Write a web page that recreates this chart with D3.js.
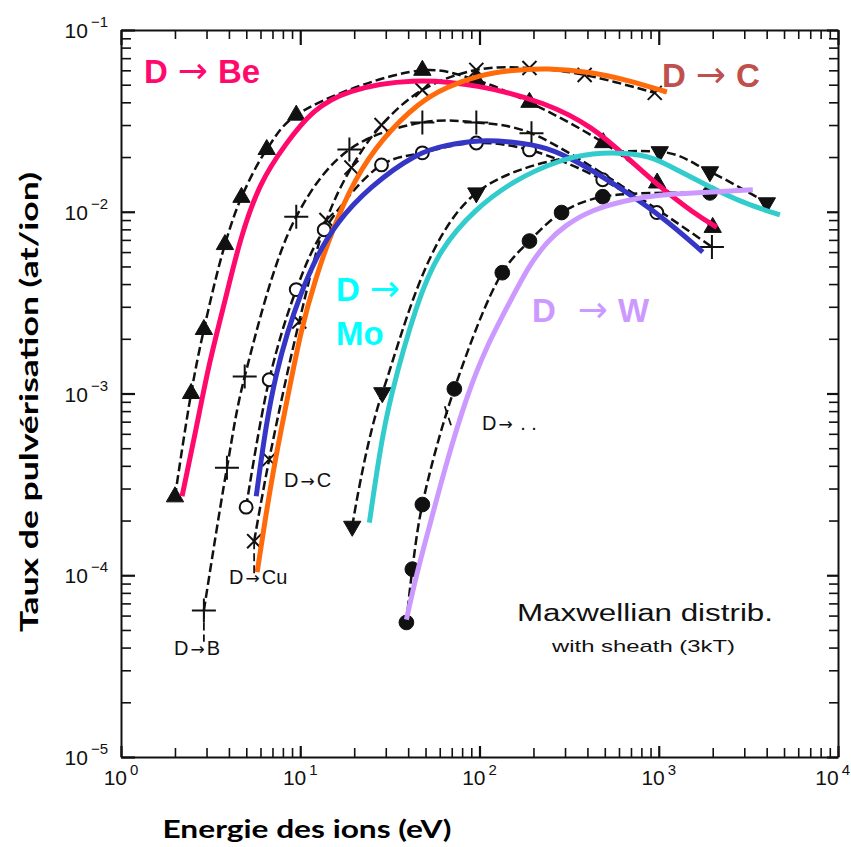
<!DOCTYPE html>
<html>
<head>
<meta charset="utf-8">
<script src="https://cdn.jsdelivr.net/npm/d3@7"></script>
<style>
  body { margin: 0; background: #fff; }
  svg { display: block; }
</style>
</head>
<body>
<svg id="chart" width="851" height="847"></svg>
<script>
// axis decades
const xTickExps = [0, 1, 2, 3, 4];
const yTickExps = [-1, -2, -3, -4, -5];

// black curves of the scanned figure: energy (eV) / yield (at/ion)
const beE = [2.0, 2.46, 2.9, 3.8, 4.7, 6.5, 9.5, 48, 96, 190, 490, 980, 2000];
const beY = [2.7e-4, 1.0e-3, 2.25e-3, 6.6e-3, 1.2e-2, 2.2e-2, 3.4e-2, 6.0e-2, 5.3e-2, 4.0e-2, 2.4e-2, 1.44e-2, 8.2e-3];
const bE = [2.9, 3.9, 4.9, 9.5, 18.8, 48, 96, 195, 1980];
const bY = [6.4e-5, 3.9e-4, 1.24e-3, 9.4e-3, 2.2e-2, 3.1e-2, 3.1e-2, 2.7e-2, 6.4e-3];
const cE = [5.53, 6.71, 9.87, 14.0, 19.3, 28.4, 48, 96, 190, 386, 950];
const cY = [1.54e-4, 4.34e-4, 2.49e-3, 9.0e-3, 1.75e-2, 3.0e-2, 4.68e-2, 6.03e-2, 6.18e-2, 5.66e-2, 4.51e-2];
const oE = [4.99, 6.71, 9.5, 13.6, 28.4, 48, 96, 190, 487, 975];
const oY = [2.37e-4, 1.19e-3, 3.73e-3, 7.96e-3, 1.81e-2, 2.11e-2, 2.39e-2, 2.19e-2, 1.5e-2, 9.9e-3];
const moE = [19.5, 28.7, 96, 1013, 1930, 4010];
const moY = [1.86e-4, 1.01e-3, 1.27e-2, 2.14e-2, 1.66e-2, 1.12e-2];
const wE = [39.1, 42.2, 48, 72.4, 134, 190, 287, 487, 1930];
const wY = [5.5e-5, 1.08e-4, 2.45e-4, 1.06e-3, 4.62e-3, 6.9e-3, 9.9e-3, 1.21e-2, 1.27e-2];

// coloured curves drawn over it
const pinkE = [2.19, 2.62, 3.10, 3.86, 4.56, 5.9, 8.35, 11.7, 18.1, 42, 100, 237, 428, 662, 1013, 1550, 2110];
const pinkY = [2.72e-4, 6.3e-4, 1.48e-3, 3.41e-3, 6.8e-3, 1.44e-2, 2.39e-2, 3.63e-2, 4.68e-2, 5.44e-2, 5.0e-2, 3.98e-2, 2.93e-2, 2.0e-2, 1.37e-2, 9.9e-3, 8.2e-3];
const orangeE = [5.75, 6.37, 7.25, 8.46, 10.1, 12.1, 15.1, 20.0, 28.7, 46.2, 65.4, 100, 153, 237, 428, 662, 1110];
const orangeY = [1.04e-4, 2.03e-4, 4.34e-4, 9.27e-4, 2.25e-3, 4.23e-3, 7.96e-3, 1.5e-2, 2.55e-2, 4.02e-2, 4.86e-2, 5.66e-2, 6.03e-2, 6.18e-2, 5.87e-2, 5.31e-2, 4.56e-2];
const blueE = [5.68, 6.46, 7.35, 8.46, 10.0, 12.3, 15.9, 24.3, 44.5, 65.4, 100, 153, 237, 362, 553, 1052, 1760];
const blueY = [2.72e-4, 6.9e-4, 1.30e-3, 2.16e-3, 3.5e-3, 5.66e-3, 8.7e-3, 1.37e-2, 2.11e-2, 2.33e-2, 2.49e-2, 2.43e-2, 2.28e-2, 1.86e-2, 1.44e-2, 9.4e-3, 6.0e-3];
const tealE = [24.3, 27.6, 31.4, 45.1, 59.8, 93.8, 157, 280, 428, 662, 925, 1260, 1930, 2940, 4740];
const tealY = [1.95e-4, 4.62e-4, 9.27e-4, 3.28e-3, 6.18e-3, 1.03e-2, 1.5e-2, 1.93e-2, 2.11e-2, 2.11e-2, 2.0e-2, 1.7e-2, 1.37e-2, 1.12e-2, 9.6e-3];
const lilacE = [39.1, 44.5, 52.6, 65.4, 84.6, 109, 153, 190, 237, 298, 428, 662, 1013, 1550, 3350];
const lilacY = [5.7e-5, 1.01e-4, 1.86e-4, 4.18e-4, 9.6e-4, 1.81e-3, 3.41e-3, 5.1e-3, 6.8e-3, 8.4e-3, 1.03e-2, 1.16e-2, 1.24e-2, 1.27e-2, 1.32e-2];

const svg = d3.select("#chart");
const plotL = 121, plotR = 838, plotT = 30, plotB = 757;

const x = d3.scaleLog().domain([1, 1e4]).range([plotL, plotR]);
const y = d3.scaleLog().domain([1e-5, 1e-1]).range([plotB, plotT]);

const tickFont = "'Liberation Sans', Arial, sans-serif";
const arrowFont = "'DejaVu Sans', sans-serif";

// frame + inward ticks, major ticks a bit longer
function isMajor(v) {
  const l = Math.log10(v);
  return Math.abs(l - Math.round(l)) < 1e-6;
}
const axes = [
  { gen: d3.axisBottom(x), t: `translate(0,${plotB})`, dir: "y", sign: -1, major: 11, minor: 9 },
  { gen: d3.axisTop(x), t: `translate(0,${plotT})`, dir: "y", sign: 1, major: 15, minor: 9 },
  { gen: d3.axisLeft(y), t: `translate(${plotL},0)`, dir: "x", sign: 1, major: 14, minor: 10 },
  { gen: d3.axisRight(y), t: `translate(${plotR},0)`, dir: "x", sign: -1, major: 11, minor: 9 }
];
axes.forEach(a => {
  const sc = a.dir === "y" ? x : y;
  const g = svg.append("g")
    .attr("transform", a.t)
    .call(a.gen.tickValues(sc.ticks()).tickSizeOuter(0).tickFormat(""));
  g.select(".domain").attr("stroke", "#111").attr("stroke-width", 2);
  g.selectAll(".tick text").remove();
  g.selectAll(".tick line")
    .attr("stroke", "#111")
    .attr("stroke-width", d => isMajor(d) ? 2.2 : 1.6)
    .attr(a.dir === "y" ? "y2" : "x2", d => a.sign * (isMajor(d) ? a.major : a.minor));
});

// tick labels 10^n
svg.append("g").selectAll("text")
  .data(xTickExps)
  .join("text")
  .attr("x", d => d === 4 ? 850 : x(Math.pow(10, d)))
  .attr("y", plotB + 28)
  .attr("text-anchor", d => d === 4 ? "end" : "middle")
  .attr("font-family", tickFont)
  .attr("font-size", 21)
  .attr("fill", "#111")
  .each(function(d) {
    const t = d3.select(this);
    t.append("tspan").text("10");
    t.append("tspan").attr("font-size", 15).attr("dx", 3).attr("dy", -10).text(d);
  });

svg.append("g").selectAll("text")
  .data(yTickExps)
  .join("text")
  .attr("x", plotL - 13)
  .attr("y", d => y(Math.pow(10, d)) + 8)
  .attr("text-anchor", "end")
  .attr("font-family", tickFont)
  .attr("font-size", 21)
  .attr("fill", "#111")
  .each(function(d) {
    const t = d3.select(this);
    t.append("tspan").text("10");
    t.append("tspan").attr("font-size", 15).attr("dx", 3).attr("dy", -11).text("\u2212" + Math.abs(d));
  });

// axis titles
svg.append("text")
  .attr("x", 307).attr("y", 838)
  .attr("text-anchor", "middle")
  .attr("font-family", "Lato, 'Open Sans', sans-serif")
  .attr("font-weight", "bold")
  .attr("font-size", 25)
  .attr("textLength", 289)
  .attr("lengthAdjust", "spacingAndGlyphs")
  .text("Energie des ions (eV)");

svg.append("text")
  .attr("transform", "translate(38,402) rotate(-90)")
  .attr("text-anchor", "middle")
  .attr("font-family", "Lato, 'Open Sans', sans-serif")
  .attr("font-weight", "bold")
  .attr("font-size", 25)
  .attr("textLength", 460)
  .attr("lengthAdjust", "spacingAndGlyphs")
  .text("Taux de pulvérisation (at/ion)");

// black dashed curves with their markers
const line = d3.line()
  .x(d => x(d[0]))
  .y(d => y(d[1]))
  .curve(d3.curveCatmullRom.alpha(0.5));

const smoothLine = d3.line()
  .x(d => x(d[0]))
  .y(d => y(d[1]))
  .curve(d3.curveBasis);

const plusType = d3.symbolPlus || d3.symbolCross;
const timesType = d3.symbolTimes || d3.symbolX || d3.symbolCross;

const blackSeries = [
  { E: beE, Y: beY, sym: d3.symbolTriangle, size: 130, fill: true },
  { E: bE, Y: bY, sym: plusType, size: 190, fill: false },
  { E: cE, Y: cY, sym: timesType, size: 130, fill: false },
  { E: oE, Y: oY, sym: d3.symbolCircle, size: 130, fill: false },
  { E: moE, Y: moY, sym: d3.symbolTriangle, size: 130, fill: true, rot: 180 },
  { E: wE, Y: wY, sym: d3.symbolCircle, size: 170, fill: true }
];

const gBlack = svg.append("g");
blackSeries.forEach(s => {
  const pts = d3.zip(s.E, s.Y);
  gBlack.append("path")
    .attr("d", line(pts))
    .attr("fill", "none")
    .attr("stroke", "#111")
    .attr("stroke-width", 2.5)
    .attr("stroke-dasharray", "9,4");
  gBlack.append("g").selectAll("path")
    .data(pts)
    .join("path")
    .attr("transform", d => `translate(${x(d[0])},${y(d[1])}) rotate(${s.rot || 0})`)
    .attr("d", d3.symbol(s.sym, s.size))
    .attr("fill", s.fill ? "#111" : "#fff")
    .attr("stroke", "#111")
    .attr("stroke-width", s.fill ? 1 : 2);
});

// leader dashes to the small labels
const leaders = [
  [[2.9, 6.4e-5], [2.9, 4.3e-5]],
  [[5.53, 1.54e-4], [5.53, 1.0e-4]],
  [[64, 8.5e-4], [70, 6.5e-4]]
];
leaders.forEach(l => {
  svg.append("path")
    .attr("d", d3.line().x(d => x(d[0])).y(d => y(d[1]))(l))
    .attr("stroke", "#111").attr("stroke-width", 1.8).attr("fill", "none")
    .attr("stroke-dasharray", "8,4");
});

// small labels from the original plot
const smallLabels = [
  { a: "D", b: "B", x: 174, y: 655 },
  { a: "D", b: "Cu", x: 229, y: 584 },
  { a: "D", b: "C", x: 284, y: 487 },
  { a: "D", b: " . .", x: 482, y: 430 }
];
svg.append("g").selectAll("text")
  .data(smallLabels)
  .join("text")
  .attr("x", d => d.x).attr("y", d => d.y)
  .attr("font-family", tickFont)
  .attr("font-size", 20)
  .attr("fill", "#111")
  .style("white-space", "pre")
  .each(function(d) {
    const t = d3.select(this);
    t.append("tspan").text(d.a);
    t.append("tspan").attr("font-family", arrowFont).attr("font-size", 17).attr("dx", 2).text("\u2192");
    t.append("tspan").attr("dx", 2).text(d.b);
  });

svg.append("text")
  .attr("x", 517).attr("y", 621)
  .attr("font-family", tickFont)
  .attr("font-size", 23)
  .attr("textLength", 256)
  .attr("lengthAdjust", "spacingAndGlyphs")
  .attr("fill", "#111")
  .text("Maxwellian distrib.");
svg.append("text")
  .attr("x", 552).attr("y", 652)
  .attr("font-family", tickFont)
  .attr("font-size", 17)
  .attr("textLength", 183)
  .attr("lengthAdjust", "spacingAndGlyphs")
  .attr("fill", "#111")
  .text("with sheath (3kT)");

// coloured overlays
const colourSeries = [
  { E: pinkE, Y: pinkY, c: "#ff0a6c" },
  { E: orangeE, Y: orangeY, c: "#ff6a0a" },
  { E: blueE, Y: blueY, c: "#3535c6" },
  { E: tealE, Y: tealY, c: "#33cccc" },
  { E: lilacE, Y: lilacY, c: "#cc99ff" }
];
colourSeries.forEach(s => {
  svg.append("path")
    .attr("d", smoothLine(d3.zip(s.E, s.Y)))
    .attr("fill", "none")
    .attr("stroke", s.c)
    .attr("stroke-width", 5);
});

const bigLabels = [
  { a: "D", b: "Be", x: 144, y: 83, c: "#ff0a6c", gap: 10 },
  { a: "D", b: "C", x: 662, y: 87, c: "#c0504d", gap: 10 },
  { a: "D", b: "", x: 336, y: 301, c: "#00ffff", gap: 10 },
  { a: "Mo", b: null, x: 336, y: 345, c: "#00ffff", gap: 0 },
  { a: "D", b: "W", x: 532, y: 322, c: "#cc99ff", gap: 22 }
];
svg.append("g").selectAll("text")
  .data(bigLabels)
  .join("text")
  .attr("x", d => d.x).attr("y", d => d.y)
  .attr("font-family", "'Liberation Sans', Arial, sans-serif")
  .attr("font-weight", "bold")
  .attr("font-size", 33)
  .attr("fill", d => d.c)
  .each(function(d) {
    const t = d3.select(this);
    t.append("tspan").text(d.a);
    if (d.b === null) return;
    t.append("tspan")
      .attr("font-family", arrowFont)
      .attr("font-weight", "normal")
      .attr("font-size", 36)
      .attr("dx", d.gap)
      .text("\u2192");
    if (d.b) t.append("tspan").attr("dx", 10).text(d.b);
  });
</script>
</body>
</html>
